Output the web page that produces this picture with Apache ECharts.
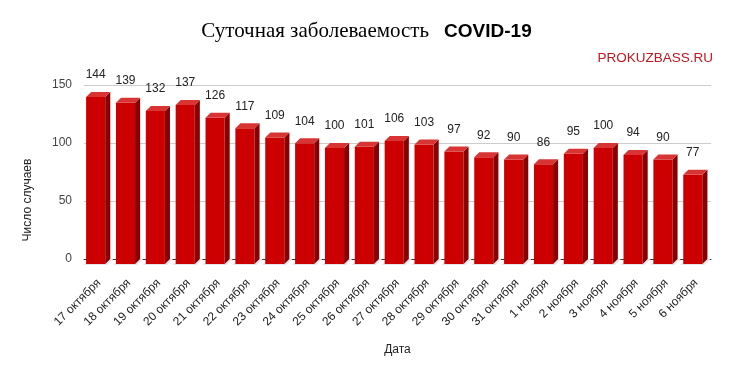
<!DOCTYPE html>
<html>
<head>
<meta charset="utf-8">
<script src="https://cdn.jsdelivr.net/npm/echarts@6/dist/echarts.min.js"></script>
<style>html,body{margin:0;padding:0;background:#fff}#c{width:733px;height:374px}</style>
</head>
<body>
<div id="c"></div>
<script>
const dates = ['17 октября','18 октября','19 октября','20 октября','21 октября','22 октября','23 октября','24 октября','25 октября','26 октября','27 октября','28 октября','29 октября','30 октября','31 октября','1 ноября','2 ноября','3 ноября','4 ноября','5 ноября','6 ноября'];
const cases = [144,139,132,137,126,117,109,104,100,101,106,103,97,92,90,86,95,100,94,90,77];
const yTicks = [0,50,100,150];

const chart = echarts.init(document.getElementById('c'), null, {renderer:'canvas'});

function renderItem(params, api){
  const i = api.value(0), v = api.value(1);
  const top = api.coord([i, v]);
  const base = api.coord([i, 0]);
  const bw = api.size([1, 0])[0];
  const fw = bw * 0.64, d = bw * 0.17, dy = 5;
  const cx = top[0] - bw * 0.11;
  const x0 = cx - fw/2, x1 = cx + fw/2;
  const yt = top[1] + dy, yb = base[1] + dy;
  return {
    type: 'group',
    children: [
      {type:'polygon', shape:{points:[[x0-3,yb+1],[x1+2,yb+1],[x1+d+3,yb-dy],[x0+d-2,yb-dy]]}, style:{fill:'#e4e8ee'}},
      {type:'rect', shape:{x:x0, y:yt, width:fw, height:yb-yt}, style:{fill:'#cc0000'}},
      {type:'polygon', shape:{points:[[x1,yt],[x1+d,yt-dy],[x1+d,yb-dy],[x1,yb]]}, style:{fill:'#8a0000'}},
      {type:'polygon', shape:{points:[[x0,yt],[x0+d,yt-dy],[x1+d,yt-dy],[x1,yt]]}, style:{fill:'#d83434'}},
      {type:'text', x: cx, y: yt - dy - 11, style:{text: String(v), fill:'#222', font:'12px "Liberation Sans", Arial, sans-serif', align:'center', verticalAlign:'bottom'}}
    ]
  };
}

chart.setOption({
  animation: false,
  backgroundColor: '#fff',
  title: [
    {text: '{a|Суточная заболеваемость}{b|COVID-19}', left: 'center', top: 16,
     textStyle: {rich: {
       a: {fontFamily: '"Liberation Serif", "Times New Roman", serif', fontSize: 21, color: '#000', fontWeight: 'normal'},
       b: {fontFamily: '"Liberation Sans", Arial, sans-serif', fontSize: 19, color: '#000', fontWeight: 'bold', padding: [0,0,0,15]}
     }}},
    {text: 'PROKUZBASS.RU', right: 20, top: 51, padding: 0,
     textStyle: {fontFamily: '"Liberation Sans", Arial, sans-serif', fontSize: 13.5, color: '#c0161f', fontWeight: 'normal'}}
  ],
  grid: {left: 84, right: 22, top: 85, bottom: 115, containLabel: false},
  xAxis: {
    type: 'category', data: dates,
    name: 'Дата', nameLocation: 'middle', nameGap: 85,
    nameTextStyle: {fontFamily: '"Liberation Sans", Arial, sans-serif', fontSize: 12, color: '#222'},
    axisLine: {show: true, lineStyle: {color: '#333', width: 1}},
    axisTick: {show: false},
    axisLabel: {rotate: 45, margin: 22, interval: 0, fontFamily: '"Liberation Sans", Arial, sans-serif', fontSize: 12, color: '#222'},
    splitLine: {show: false}
  },
  yAxis: {
    type: 'value', min: yTicks[0], max: yTicks[yTicks.length-1], interval: 50,
    axisLine: {show: false}, axisTick: {show: false},
    axisLabel: {margin: 12, fontFamily: '"Liberation Sans", Arial, sans-serif', fontSize: 12, color: '#444'},
    splitLine: {lineStyle: {color: '#cccccc', width: 1}}
  },
  graphic: [
    {type: 'text', x: 28, y: 200, rotation: Math.PI/2,
     style: {text: 'Число случаев', fill: '#222', font: '12px "Liberation Sans", Arial, sans-serif', align: 'center', verticalAlign: 'middle'}}
  ],
  series: [{
    type: 'custom', renderItem: renderItem, clip: false, z: 5,
    encode: {x: 0, y: 1},
    data: cases.map((c, i) => [i, c])
  }]
});
</script>
</body>
</html>
